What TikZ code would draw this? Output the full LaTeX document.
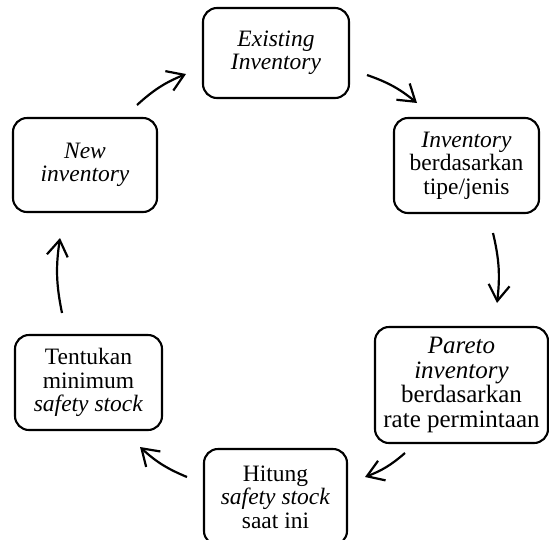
\documentclass[tikz,border=0pt]{standalone}
\usepackage{fontspec}
\setmainfont{Liberation Serif}
\usetikzlibrary{arrows.meta}
\begin{document}
\begin{tikzpicture}[x=1pt,y=-1pt,
  box/.style={draw, line width=2.1pt, rounded corners=14pt, align=center,
    inner sep=0pt, font=\fontsize{23.5}{23.5}\selectfont},
  flow/.style={line width=2.2pt, -{Straight Barb[length=16pt,width=21pt]}, bend left=10}]
\useasboundingbox (0,0) rectangle (549,539);
\node[box, minimum width=146pt, minimum height=90pt] (ex) at (276,53) {\textit{Existing}\\\textit{Inventory}};
\node[box, minimum width=145pt, minimum height=95pt] (tp) at (466.5,165.5) {\textit{Inventory}\\berdasarkan\\tipe/jenis};
\node[box, minimum width=173pt, minimum height=116pt, font=\fontsize{25}{24.5}\selectfont] (pa) at (461.5,385) {\textit{Pareto}\\\textit{inventory}\\berdasarkan\\rate permintaan};
\node[box, minimum width=143pt, minimum height=96pt] (hi) at (275.5,497) {Hitung\\\textit{safety stock}\\saat ini};
\node[box, minimum width=147pt, minimum height=95pt] (te) at (88.5,382.5) {Tentukan\\minimum\\\textit{safety stock}};
\node[box, minimum width=144pt, minimum height=94pt] (ne) at (85,165) {\textit{New}\\\textit{inventory}};
\coordinate (a1) at (137,105); \coordinate (b1) at (186,74);
\coordinate (a2) at (367,75);  \coordinate (b2) at (417,103);
\coordinate (a3) at (493,233); \coordinate (b3) at (497,303);
\coordinate (a4) at (405,453); \coordinate (b4) at (365,477);
\coordinate (a5) at (187,477); \coordinate (b5) at (140,447);
\coordinate (a6) at (62,313);  \coordinate (b6) at (60,238);
\draw[flow] (a1) to (b1);
\draw[flow] (a2) to (b2);
\draw[flow] (a3) to (b3);
\draw[flow] (a4) to (b4);
\draw[flow] (a5) to (b5);
\draw[flow] (a6) to (b6);
\end{tikzpicture}
\end{document}
